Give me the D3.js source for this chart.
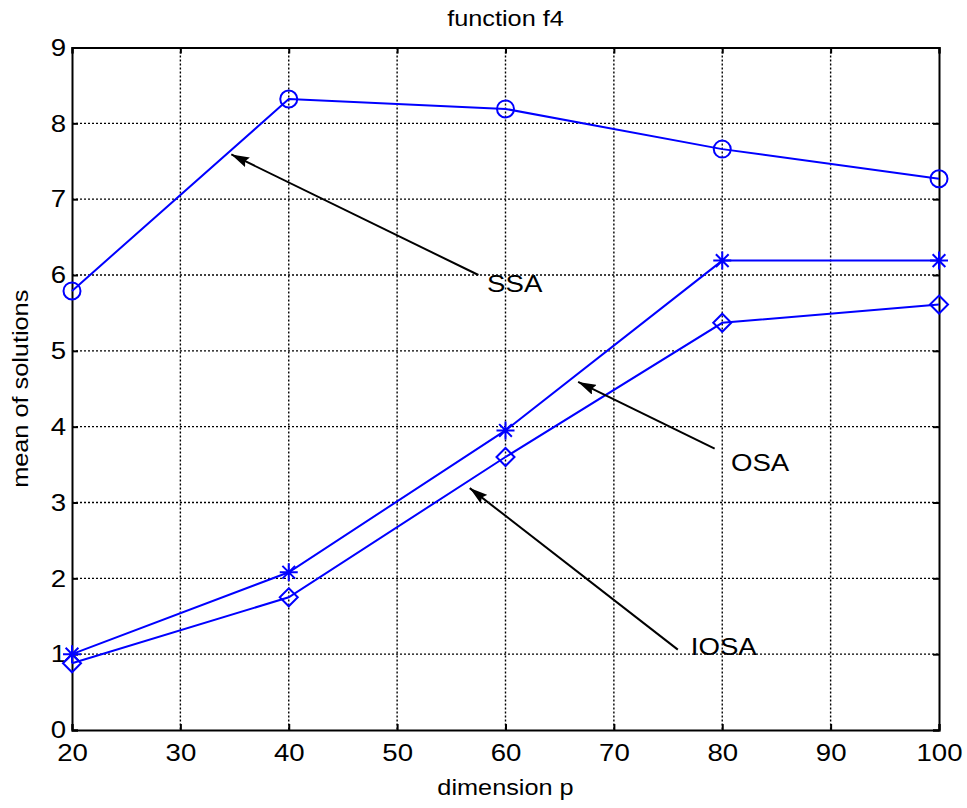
<!DOCTYPE html>
<html>
<head>
<meta charset="utf-8">
<script src="https://cdn.jsdelivr.net/npm/d3@7"></script>
<style>
  body { margin: 0; background: #fff; }
  svg { display: block; font-family: "Liberation Sans", Arial, sans-serif; }
</style>
</head>
<body>
<svg id="chart" width="967" height="808"></svg>
<script>
  // data
  const dims = [20, 40, 60, 80, 100];
  const ssa = [5.79, 8.32, 8.19, 7.66, 7.27];
  const osa = [1.0, 2.08, 3.95, 6.19, 6.19];
  const iosa = [0.88, 1.75, 3.6, 5.37, 5.61];
  const xTicks = [20, 30, 40, 50, 60, 70, 80, 90, 100];
  const yTicks = [0, 1, 2, 3, 4, 5, 6, 7, 8, 9];

  // annotations, in data units: [tail, head, text position]
  const notes = [
    {label: 'SSA', tail: [57.5, 6.0], head: [34.7, 7.59], text: [58.3, 5.77]},
    {label: 'OSA', tail: [79.3, 3.71], head: [66.7, 4.59], text: [80.8, 3.42]},
    {label: 'IOSA', tail: [75.9, 1.06], head: [56.7, 3.19], text: [77.1, 0.99]}
  ];

  const width = 967, height = 808;
  const margin = {top: 47.5, right: 28, bottom: 78, left: 72};
  const stretch = 1.15; // text in the reference is a bit wide

  const svg = d3.select('#chart');
  const x = d3.scaleLinear().domain([20, 100]).range([margin.left, width - margin.right]);
  const y = d3.scaleLinear().domain([0, 9]).range([height - margin.bottom, margin.top]);

  const xL = x.range()[0], xR = x.range()[1];
  const yT = y.range()[1], yB = y.range()[0];

  // grid
  const grid = svg.append('g').attr('class', 'grid')
    .attr('stroke', '#000').attr('stroke-width', 1.4).attr('stroke-dasharray', '2,2');
  grid.selectAll('.gx').data(xTicks.slice(1, -1)).enter().append('line')
    .attr('x1', d => x(d)).attr('x2', d => x(d))
    .attr('y1', yT).attr('y2', yB);
  grid.selectAll('.gy').data(yTicks.slice(1, -1)).enter().append('line')
    .attr('y1', d => y(d)).attr('y2', d => y(d))
    .attr('x1', xL).attr('x2', xR);

  // axes, inward ticks on all four sides
  const tickLen = 6;
  const axB = svg.append('g').attr('transform', `translate(0,${yB})`)
    .call(d3.axisBottom(x).tickValues(xTicks).tickSize(-tickLen).tickPadding(14));
  const axT = svg.append('g').attr('transform', `translate(0,${yT})`)
    .call(d3.axisTop(x).tickValues(xTicks).tickSize(-tickLen).tickFormat(''));
  const axL = svg.append('g').attr('transform', `translate(${xL},0)`)
    .call(d3.axisLeft(y).tickValues(yTicks).tickSize(-tickLen).tickPadding(6));
  const axR = svg.append('g').attr('transform', `translate(${xR},0)`)
    .call(d3.axisRight(y).tickValues(yTicks).tickSize(-tickLen).tickFormat(''));

  [axB, axT, axL, axR].forEach(a => {
    a.select('.domain').attr('stroke', '#000').attr('stroke-width', 2);
    a.selectAll('.tick line').attr('stroke', '#000').attr('stroke-width', 2);
    a.selectAll('.tick text').attr('fill', '#000').attr('font-size', 24)
      .attr('font-family', '"Liberation Sans", Arial, sans-serif');
  });
  axB.selectAll('.tick text').attr('transform', `scale(${stretch},1)`);
  axL.selectAll('.tick text')
    .attr('x', -6 / stretch)
    .attr('transform', `scale(${stretch},1)`);

  // series
  const line = d3.line().x(d => x(d[0])).y(d => y(d[1]));
  const blue = '#0000ff';
  const series = [
    {vals: ssa, marker: 'circle'},
    {vals: osa, marker: 'star'},
    {vals: iosa, marker: 'diamond'}
  ];
  series.forEach(s => {
    const pts = dims.map((d, i) => [d, s.vals[i]]);
    svg.append('path').datum(pts)
      .attr('d', line).attr('fill', 'none')
      .attr('stroke', blue).attr('stroke-width', 2);
    const g = svg.append('g').attr('fill', 'none').attr('stroke', blue).attr('stroke-width', 2);
    pts.forEach(p => {
      const cx = x(p[0]), cy = y(p[1]);
      if (s.marker === 'circle') {
        g.append('circle').attr('cx', cx).attr('cy', cy).attr('r', 8.5);
      } else if (s.marker === 'diamond') {
        const r = 9;
        g.append('path').attr('d', `M${cx},${cy - r}L${cx + r},${cy}L${cx},${cy + r}L${cx - r},${cy}Z`);
      } else {
        const r = 9;
        const d = [0, 45, 90, 135].map(a => {
          const t = a * Math.PI / 180;
          const dx = r * Math.cos(t), dy = r * Math.sin(t);
          return `M${cx - dx},${cy - dy}L${cx + dx},${cy + dy}`;
        }).join('');
        g.append('path').attr('d', d);
      }
    });
  });

  // arrows
  svg.append('defs').append('marker')
    .attr('id', 'head').attr('viewBox', '0 0 10 6')
    .attr('refX', 10).attr('refY', 3)
    .attr('markerWidth', 9).attr('markerHeight', 5.4)
    .attr('markerUnits', 'strokeWidth')
    .attr('orient', 'auto')
    .append('path').attr('d', 'M0,0L10,3L0,6L1.5,3Z').attr('fill', '#000');

  notes.forEach(n => {
    svg.append('line')
      .attr('x1', x(n.tail[0])).attr('y1', y(n.tail[1]))
      .attr('x2', x(n.head[0])).attr('y2', y(n.head[1]))
      .attr('stroke', '#000').attr('stroke-width', 2)
      .attr('marker-end', 'url(#head)');
    svg.append('text')
      .attr('transform', `translate(${x(n.text[0])},${y(n.text[1])}) scale(${stretch},1)`)
      .attr('font-size', 24).attr('fill', '#000')
      .text(n.label);
  });

  // title and axis labels
  svg.append('text')
    .attr('transform', `translate(${(xL + xR) / 2},26) scale(${stretch},1)`)
    .attr('text-anchor', 'middle').attr('font-size', 22)
    .text('function f4');
  svg.append('text')
    .attr('transform', `translate(${(xL + xR) / 2},795) scale(${stretch},1)`)
    .attr('text-anchor', 'middle').attr('font-size', 22)
    .text('dimension p');
  svg.append('text')
    .attr('transform', `translate(28,${(yT + yB) / 2}) rotate(-90) scale(${stretch},1)`)
    .attr('text-anchor', 'middle').attr('font-size', 22)
    .text('mean of solutions');
</script>
</body>
</html>
